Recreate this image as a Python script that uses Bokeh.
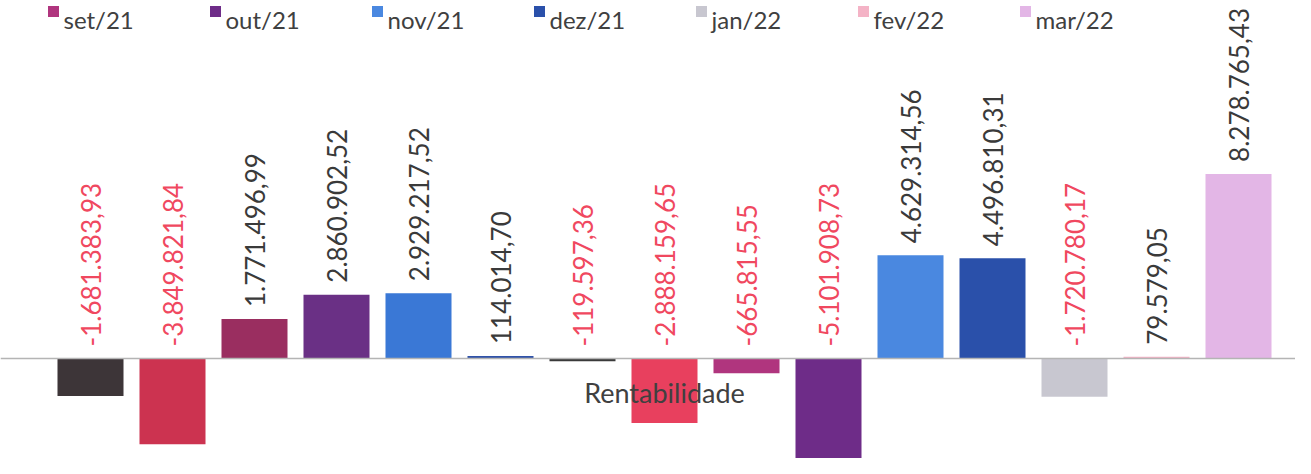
import numpy as np
from bokeh.plotting import figure
from bokeh.models import ColumnDataSource, Span, Range1d
from bokeh.core.properties import value
from bokeh.embed import file_html
from bokeh.resources import INLINE

# ---------------- data ----------------
months = ["jan/21", "fev/21", "mar/21", "abr/21", "mai/21", "jun/21", "jul/21", "ago/21",
          "set/21", "out/21", "nov/21", "dez/21", "jan/22", "fev/22", "mar/22"]
values = [-1681383.93, -3849821.84, 1771496.99, 2860902.52, 2929217.52, 114014.70,
          -119597.36, -2888159.65, -665815.55, -5101908.73, 4629314.56, 4496810.31,
          -1720780.17, 79579.05, 8278765.43]
colors = ["#3d3538", "#cc3350", "#9a2e60", "#6a3085", "#3a78d6", "#2f52a8", "#3a3a3a", "#e8405e",
          "#b0357e", "#6e2c88", "#4a88e0", "#2a50aa", "#c8c7d0", "#f4b3c6", "#e3b6e6"]
legend_months = months[8:]
legend_colors = colors[8:]
category = "Rentabilidade"


def br(v):
    s = f"{abs(v):,.2f}".replace(",", "X").replace(".", ",").replace("X", ".")
    return ("-" if v < 0 else "") + s


labels = [br(v) for v in values]

# ---------------- layout ----------------
W, H = 1295, 458
PX = 22.3 / 1e6          # pixels per unit
ZERO_TOP = 358           # zero line distance from top of frame, px
y_end = ZERO_TOP / PX
y_start = -(H - ZERO_TOP) / PX
BAR_STEP = 82.0
FIRST_CENTER = 90.0
x_start = -FIRST_CENTER / BAR_STEP
x_end = x_start + W / BAR_STEP

p = figure(width=W, height=H, x_range=Range1d(x_start, x_end), y_range=Range1d(y_start, y_end),
           min_border=0, min_border_left=0, min_border_right=0, min_border_top=0, min_border_bottom=0,
           outline_line_color=None, toolbar_location=None, output_backend="svg",
           background_fill_color="white", border_fill_color="white")
p.axis.visible = False
p.grid.visible = False

idx = list(range(len(months)))
src = ColumnDataSource(dict(x=idx, top=values, color=colors, month=months))
p.vbar(x="x", top="top", bottom=0, width=0.805, fill_color="color", line_color=None, source=src)

p.add_layout(Span(location=0, dimension="width", line_color="#b4b4b4", line_width=1.5))

off = 12 / PX
lbl_y = [max(v, 0) + off for v in values]
lbl_col = ["#f0485f" if v < 0 else "#3a3a3a" for v in values]
lsrc = ColumnDataSource(dict(x=idx, y=lbl_y, text=labels, c=lbl_col))
p.text(x="x", y="y", text="text", angle=np.pi / 2, text_align="left", text_baseline="middle",
       text_color="c", text_font=value("Lato"), text_font_size="26px", source=lsrc)

# category label
p.text(x=[(len(months) - 1) / 2], y=[-34 / PX], text=[category], text_align="center",
       text_baseline="middle", text_color="#404040", text_font=value("Lato"), text_font_size="27px")


# legend (visible row of the reference)
def px_to_x(px):
    return x_start + px / BAR_STEP


leg_x = [px_to_x(47 + 162 * k) for k in range(len(legend_months))]
sq_x = [x + 6 / BAR_STEP for x in leg_x]
txt_x = [x + 16 / BAR_STEP for x in leg_x]
p.rect(x=sq_x, y=[y_end - 11 / PX] * len(sq_x), width=11, height=11, width_units="screen",
       height_units="screen", fill_color=legend_colors, line_color=None)
p.text(x=txt_x, y=[y_end - 19 / PX] * len(txt_x), text=legend_months, text_align="left",
       text_baseline="alphabetic", text_color="#404040", text_font=value("Lato"), text_font_size="24px")

open("out.html", "w").write(file_html(p, INLINE))
